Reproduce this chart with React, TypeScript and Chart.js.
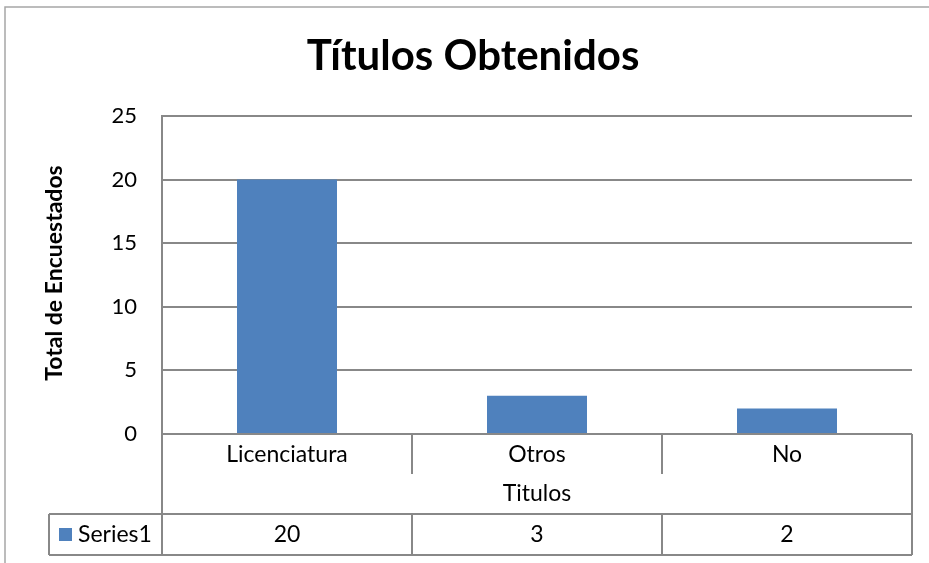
import React, { useEffect, useRef } from "react";
import { Chart, registerables } from "chart.js";

Chart.register(...registerables);

const chartTitle = "Títulos Obtenidos";
const yAxisTitle = "Total de Encuestados";
const xAxisTitle = "Titulos";
const seriesName = "Series1";
const categories = ["Licenciatura", "Otros", "No"];
const seriesValues = [20, 3, 2];
const yMin = 0;
const yMax = 25;
const yStep = 5;

const FONT = "Lato, 'Open Sans', 'Liberation Sans', sans-serif";
const BAR = "#4F81BD";
const GRID = "#888888";

const decorPlugin = {
  id: "excelDecor",
  beforeDraw(chart: any) {
    const ctx = chart.ctx;
    ctx.save();
    ctx.fillStyle = "#ffffff";
    ctx.fillRect(0, 0, chart.width, chart.height);
    ctx.restore();
  },
  afterDraw(chart: any) {
    const ctx = chart.ctx;
    const { left, right, top, bottom } = chart.chartArea;
    const xs = chart.scales.x;
    const n = categories.length;
    ctx.save();

    // outer chart border
    ctx.strokeStyle = "#a6a6a6";
    ctx.lineWidth = 1.5;
    ctx.beginPath();
    ctx.moveTo(5, chart.height + 2);
    ctx.lineTo(5, 7);
    ctx.lineTo(chart.width + 2, 7);
    ctx.stroke();

    // title
    ctx.fillStyle = "#000";
    ctx.textAlign = "center";
    ctx.textBaseline = "middle";
    ctx.font = `bold 42px ${FONT}`;
    ctx.fillText(chartTitle, (left + right) / 2 - 64, 56);

    // y axis title
    ctx.save();
    ctx.translate(55, (top + bottom) / 2 - 2);
    ctx.rotate(-Math.PI / 2);
    ctx.font = `bold 23px ${FONT}`;
    ctx.fillText(yAxisTitle, 0, 0);
    ctx.restore();

    // table lines
    const rowTop = bottom;
    const catRowBottom = bottom + 40;
    const seriesTop = bottom + 80;
    const seriesBottom = bottom + 121;
    const legendLeft = 49;
    ctx.strokeStyle = GRID;
    ctx.lineWidth = 2;
    ctx.beginPath();
    ctx.moveTo(left, rowTop);
    ctx.lineTo(right, rowTop);
    ctx.moveTo(left, rowTop);
    ctx.lineTo(left, seriesBottom);
    ctx.moveTo(right, rowTop);
    ctx.lineTo(right, seriesBottom);
    ctx.moveTo(legendLeft, seriesTop);
    ctx.lineTo(right, seriesTop);
    ctx.moveTo(legendLeft, seriesBottom);
    ctx.lineTo(right, seriesBottom);
    ctx.moveTo(legendLeft, seriesTop);
    ctx.lineTo(legendLeft, seriesBottom);
    for (let i = 0; i < n - 1; i++) {
      const bx = (xs.getPixelForValue(i) + xs.getPixelForValue(i + 1)) / 2;
      ctx.moveTo(bx, rowTop);
      ctx.lineTo(bx, catRowBottom);
      ctx.moveTo(bx, seriesTop);
      ctx.lineTo(bx, seriesBottom);
    }
    ctx.stroke();

    // category labels and values
    ctx.fillStyle = "#000";
    ctx.font = `23px ${FONT}`;
    ctx.textAlign = "center";
    for (let i = 0; i < n; i++) {
      const cx = xs.getPixelForValue(i);
      ctx.fillText(categories[i], cx, rowTop + 21);
      ctx.fillText(String(seriesValues[i]), cx, seriesTop + 21);
    }
    ctx.fillText(xAxisTitle, (left + right) / 2, rowTop + 60);

    // legend key
    ctx.fillStyle = BAR;
    ctx.fillRect(59, seriesTop + 14, 13, 13);
    ctx.fillStyle = "#000";
    ctx.textAlign = "left";
    ctx.fillText(seriesName, 78, seriesTop + 21);

    ctx.restore();
  },
};

export default function App() {
  const ref = useRef<HTMLCanvasElement | null>(null);
  useEffect(() => {
    if (!ref.current) return;
    const chart = new Chart(ref.current, {
      type: "bar",
      data: {
        labels: categories,
        datasets: [
          {
            label: seriesName,
            data: seriesValues,
            backgroundColor: BAR,
            borderWidth: 0,
            categoryPercentage: 1,
            barPercentage: 0.4,
          },
        ],
      },
      options: {
        responsive: false,
        animation: false,
        devicePixelRatio: 1,
        layout: { padding: { top: 116, right: 17, bottom: 0, left: 0 } },
        plugins: {
          legend: { display: false },
          title: { display: false },
          tooltip: { enabled: false },
        },
        scales: {
          x: {
            grid: { display: false, drawTicks: false },
            border: { display: false },
            ticks: { display: false },
            afterFit: (s: any) => {
              s.height = 129;
            },
          },
          y: {
            min: yMin,
            max: yMax,
            grid: { color: GRID, lineWidth: 2, drawTicks: false },
            border: { display: true, color: GRID, width: 2 },
            ticks: {
              stepSize: yStep,
              padding: 25,
              color: "#000",
              font: { family: FONT, size: 22 },
            },
            afterFit: (s: any) => {
              s.width = 162;
            },
          },
        },
      },
      plugins: [decorPlugin],
    });
    return () => chart.destroy();
  }, []);
  return (
    <div style={{ position: "absolute", left: 0, top: 0, width: 929, height: 563 }}>
      <canvas ref={ref} width={929} height={563} style={{ width: 929, height: 563 }} />
    </div>
  );
}
